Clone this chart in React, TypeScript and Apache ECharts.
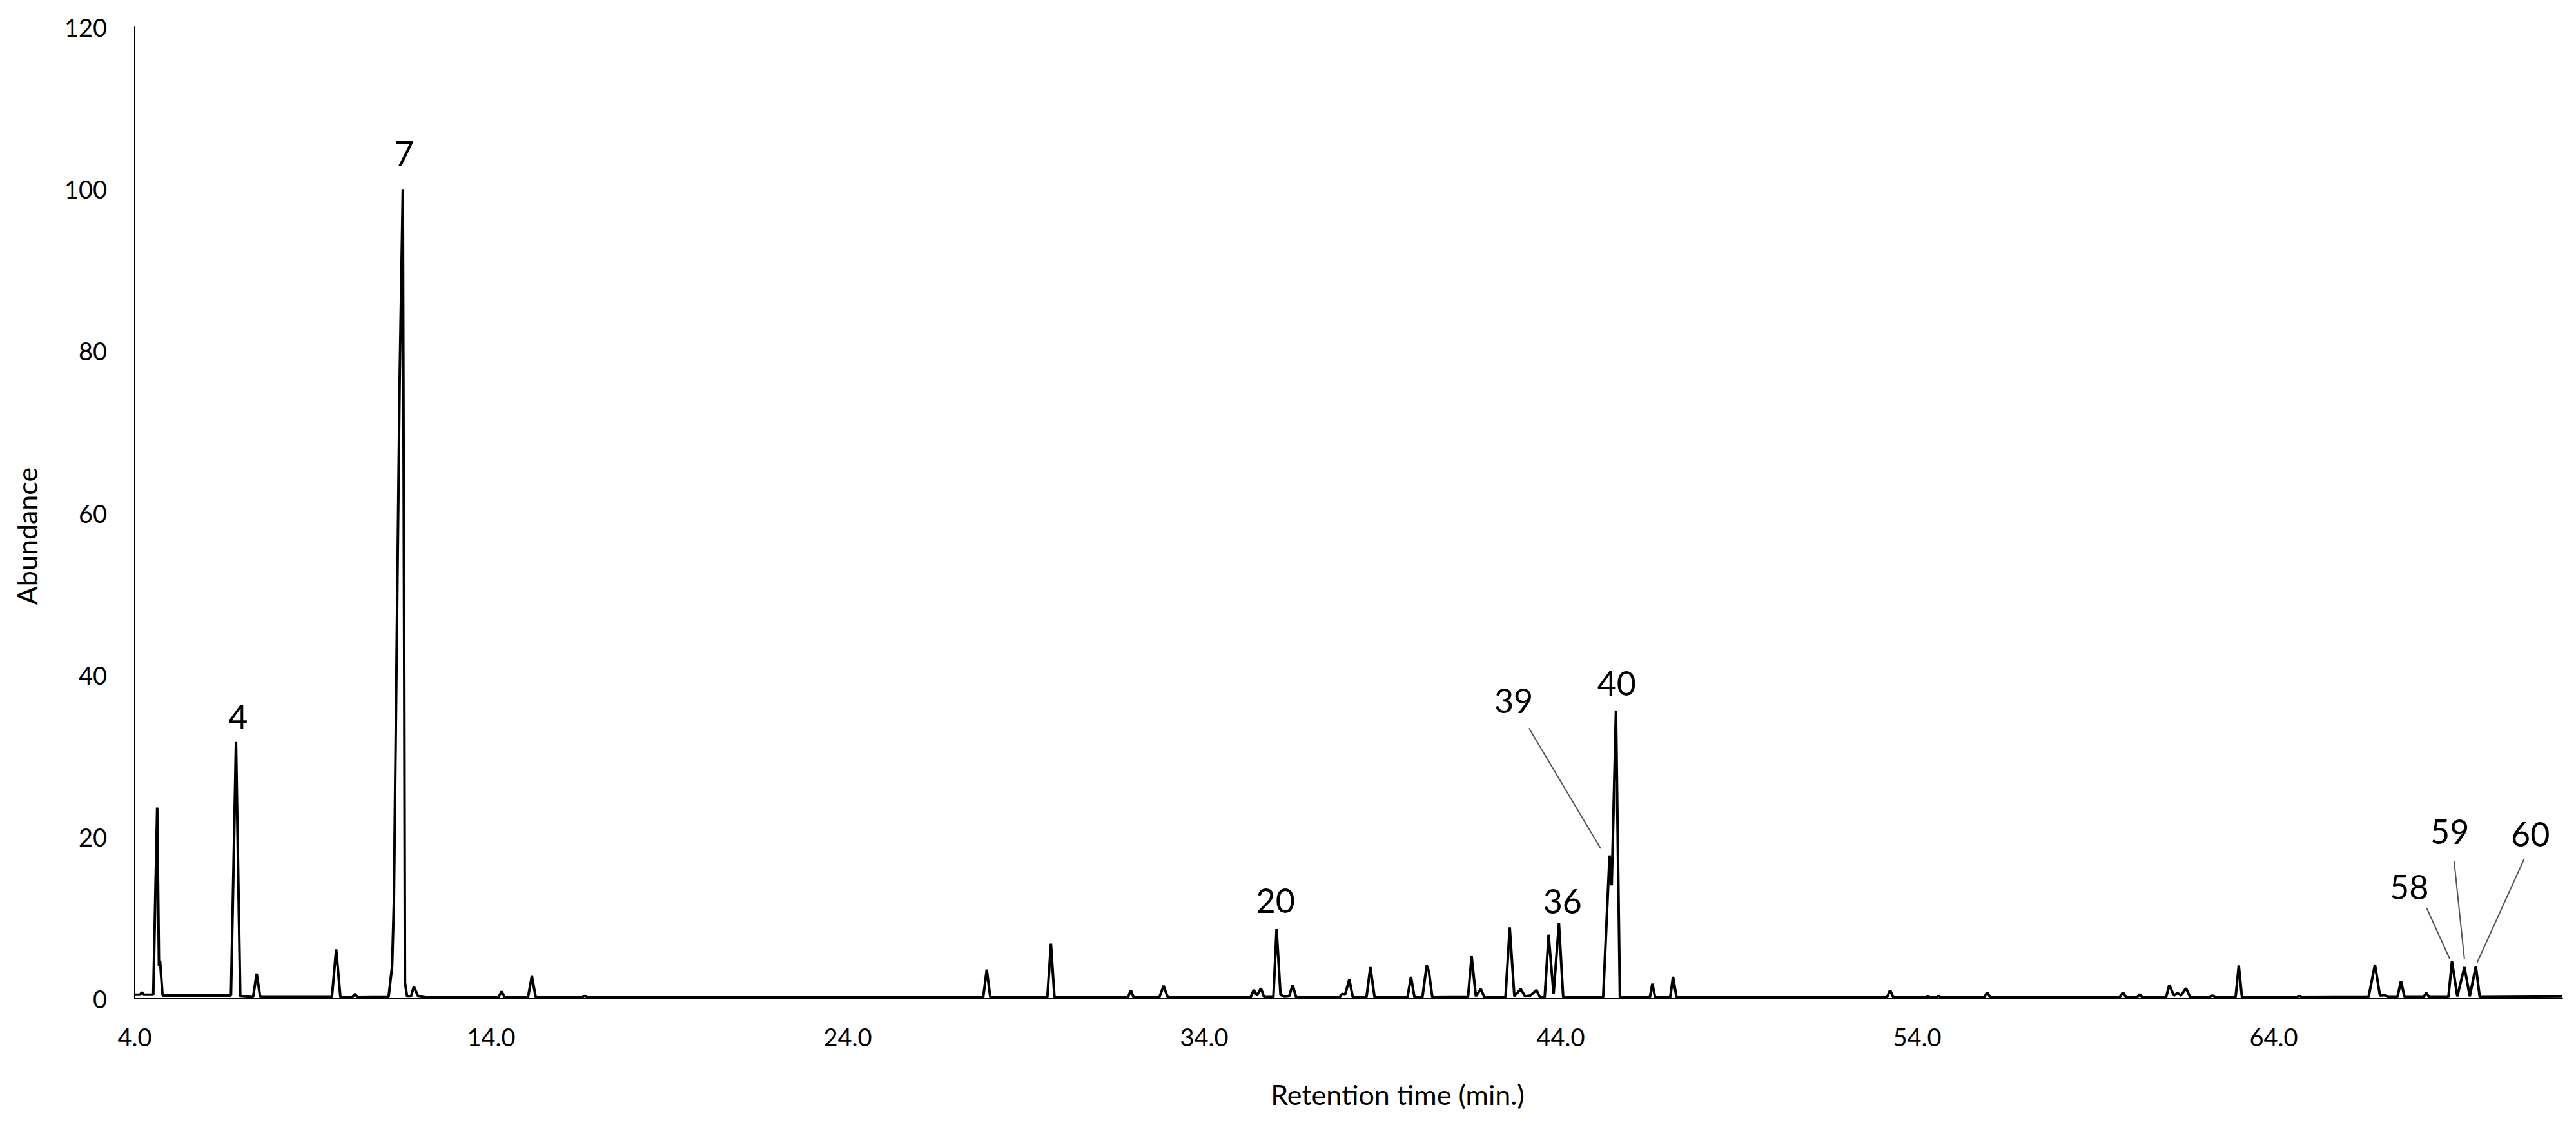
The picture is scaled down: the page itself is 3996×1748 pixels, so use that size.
import React, { useEffect, useRef } from "react";
import * as echarts from "echarts";

// Retention time (min) and abundance of the chromatogram trace
const retentionTime: number[] = [
  4.0, 4.15, 4.2, 4.25, 4.52, 4.63, 4.68, 4.71, 4.78, 6.7,
  6.84, 6.96, 7.32, 7.42, 7.52, 9.53, 9.65, 9.77, 10.1, 10.18,
  10.26, 11.12, 11.22, 11.27, 11.43, 11.52, 11.56, 11.58, 11.64, 11.75,
  11.83, 11.95, 12.2, 14.2, 14.29,
  14.38, 15.03, 15.14, 15.25, 16.55, 16.62, 16.7, 27.8, 27.9, 28.0,
  29.6, 29.7, 29.8, 31.86, 31.94, 32.02, 32.74, 32.86, 32.98, 35.3,
  35.39, 35.48, 35.59, 35.68, 35.94, 36.03, 36.14, 36.25, 36.38, 36.48,
  36.58, 37.8, 37.87, 37.95, 38.07, 38.17, 38.55, 38.66, 38.78, 39.7,
  39.8, 39.9, 40.12, 40.24, 40.3, 40.4, 41.4, 41.5, 41.62, 41.76,
  41.86, 42.45, 42.57, 42.7, 42.88, 43.0, 43.15, 43.32, 43.42, 43.55,
  43.66, 43.8, 43.95, 44.07, 45.19, 45.37, 45.43, 45.55, 45.66, 46.5,
  46.57, 46.65, 47.07, 47.15, 47.25, 53.15, 53.24, 53.33, 54.25, 54.3,
  54.35, 54.55, 54.6, 54.65, 55.88, 55.96, 56.05, 59.68, 59.77, 59.86,
  60.17, 60.24, 60.31, 60.98, 61.07, 61.2, 61.3, 61.4, 61.54, 61.66,
  62.2, 62.28, 62.36, 62.93, 63.02, 63.11, 64.65, 64.72, 64.79, 66.66,
  66.84, 66.98, 67.12, 67.22, 67.47, 67.57, 67.67, 68.2, 68.28, 68.36,
  68.9, 69.0, 69.15, 69.35, 69.5, 69.67, 69.78, 72.1,
];

const abundance: number[] = [
  0.5, 0.5, 0.8, 0.5, 0.5, 23.6, 4.0, 4.7, 0.4, 0.4,
  31.7, 0.3, 0.2, 3.1, 0.2, 0.2, 6.1, 0.15, 0.15, 0.6,
  0.15, 0.2, 4, 12, 76, 100, 40, 2, 0.3, 0.3,
  1.5, 0.3, 0.15, 0.15, 0.9,
  0.15, 0.15, 2.8, 0.15, 0.15, 0.35, 0.15, 0.15, 3.6, 0.15,
  0.15, 6.8, 0.15, 0.15, 1.05, 0.15, 0.15, 1.6, 0.15, 0.15,
  1.1, 0.4, 1.3, 0.2, 0.2, 8.6, 0.5, 0.25, 0.3, 1.7,
  0.15, 0.15, 0.6, 0.5, 2.4, 0.15, 0.15, 3.9, 0.15, 0.15,
  2.7, 0.15, 0.15, 4.1, 3.4, 0.15, 0.2, 5.25, 0.3, 1.2,
  0.15, 0.15, 8.8, 0.3, 1.2, 0.3, 0.4, 1.07, 0.15, 0.15,
  7.9, 0.6, 9.3, 0.15, 0.15, 17.7, 14.0, 35.6, 0.15, 0.15,
  1.85, 0.15, 0.15, 2.7, 0.15, 0.15, 1.05, 0.15, 0.15, 0.3,
  0.15, 0.15, 0.35, 0.15, 0.15, 0.8, 0.15, 0.15, 0.8, 0.15,
  0.15, 0.55, 0.15, 0.15, 1.7, 0.4, 0.7, 0.4, 1.3, 0.15,
  0.15, 0.4, 0.15, 0.15, 4.1, 0.15, 0.15, 0.35, 0.15, 0.2,
  4.2, 0.4, 0.45, 0.2, 0.2, 2.2, 0.2, 0.2, 0.7, 0.2,
  0.2, 4.6, 0.3, 3.9, 0.3, 4.0, 0.2, 0.25,
];

// Peak number labels: name, label centre (time, abundance)
const peakNames: string[] = ["4", "7", "20", "36", "39", "40", "58", "59", "60"];
const peakLabelTime: number[] = [6.9, 11.56, 36.0, 44.05, 42.68, 45.57, 67.8, 68.94, 71.2];
const peakLabelValue: number[] = [34.9, 104.5, 12.2, 12.1, 36.9, 39.0, 13.85, 20.7, 20.4];

// Leader lines from label to peak: [t1, v1, t2, v2]
const leaderLines: number[][] = [
  [43.11, 33.4, 45.12, 18.55],
  [68.29, 11.2, 68.94, 4.9],
  [69.06, 17.0, 69.35, 4.86],
  [71.03, 17.3, 69.71, 4.5],
];

const xTickInterval = 10;
const xMin = 4;
const xMax = 72.1;
const yTicks = [0, 20, 40, 60, 80, 100, 120];

const FONT = "Lato, 'Noto Sans', sans-serif";

export default function App() {
  const ref = useRef<HTMLDivElement>(null);

  useEffect(() => {
    if (!ref.current) return;
    const chart = echarts.init(ref.current, undefined, { renderer: "svg" });
    const trace = retentionTime.map((t, i) => [t, abundance[i]]);

    chart.setOption({
      animation: false,
      backgroundColor: "#ffffff",
      grid: { left: 209, right: 21, top: 42, bottom: 199, containLabel: false },
      xAxis: {
        type: "value",
        min: xMin,
        max: xMax,
        interval: xTickInterval,
        name: "Retention time (min.)",
        nameLocation: "middle",
        nameGap: 127,
        nameTextStyle: {
          fontSize: 43,
          fontFamily: FONT,
          color: "#000",
          padding: [0, 0, 0, 152],
        },
        axisLine: { show: true, lineStyle: { color: "#000", width: 2 } },
        axisTick: { show: false },
        splitLine: { show: false },
        axisLabel: {
          fontSize: 38,
          fontFamily: FONT,
          color: "#000",
          margin: 40,
          showMaxLabel: false,
          formatter: (v: number) => v.toFixed(1),
        },
      },
      yAxis: {
        type: "value",
        min: yTicks[0],
        max: yTicks[yTicks.length - 1],
        interval: 20,
        name: "Abundance",
        nameLocation: "middle",
        nameGap: 146,
        nameRotate: 90,
        nameTextStyle: {
          fontSize: 43,
          fontFamily: FONT,
          color: "#000",
          padding: [0, 72, 0, 0],
        },
        axisLine: { show: true, lineStyle: { color: "#000", width: 2 } },
        axisTick: { show: false },
        splitLine: { show: false },
        axisLabel: { fontSize: 38, fontFamily: FONT, color: "#000", margin: 43 },
      },
      series: [
        {
          type: "line",
          data: trace,
          showSymbol: false,
          symbol: "none",
          lineStyle: { color: "#000", width: 4 },
          silent: true,
          markPoint: {
            symbol: "rect",
            symbolSize: 1,
            itemStyle: { color: "rgba(0,0,0,0)" },
            label: {
              show: true,
              position: "inside",
              formatter: "{b}",
              fontSize: 52,
              fontFamily: FONT,
              color: "#000",
              align: "center",
              verticalAlign: "middle",
            },
            data: peakNames.map((n, i) => ({
              name: n,
              coord: [peakLabelTime[i], peakLabelValue[i]],
            })),
          },
          markLine: {
            silent: true,
            symbol: ["none", "none"],
            label: { show: false },
            lineStyle: { color: "#555", width: 2, type: "solid" },
            data: leaderLines.map((l) => [
              { coord: [l[0], l[1]] },
              { coord: [l[2], l[3]] },
            ]),
          },
        },
      ],
    });

    return () => chart.dispose();
  }, []);

  return (
    <div
      ref={ref}
      style={{ position: "fixed", left: 0, top: 0, width: 3996, height: 1748, background: "#fff" }}
    />
  );
}
